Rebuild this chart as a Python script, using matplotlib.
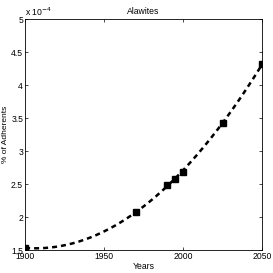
import numpy as np
import matplotlib
matplotlib.use("Agg")
import matplotlib.pyplot as plt

years = [1900, 1970, 1990, 1995, 2000, 2025, 2050]
adherents = [1.53e-4, 2.08e-4, 2.49e-4, 2.58e-4, 2.69e-4, 3.42e-4, 4.32e-4]

plt.rcParams["font.family"] = ["Liberation Sans", "DejaVu Sans"]

fig = plt.figure(figsize=(2.73, 2.73), dpi=100)
ax = fig.add_axes([0.092, 0.084, 0.868, 0.846])

# quadratic fit through the data points
coef = np.polyfit(years, adherents, 2)
xs = np.linspace(1900, 2050, 200)
ax.plot(xs, np.polyval(coef, xs), color="black", lw=1.8, ls=(0, (2, 1.6)))
ax.plot(years, adherents, ls="none", marker="s", ms=4.5, color="black")

ax.set_xlim(1900, 2050)
ax.set_ylim(1.5e-4, 5e-4)
ax.set_xticks([1900, 1950, 2000, 2050])
ax.set_yticks(np.arange(1.5e-4, 5.01e-4, 0.5e-4))
ax.set_yticklabels(["1.5", "2", "2.5", "3", "3.5", "4", "4.5", "5"])
ax.tick_params(direction="in", top=True, right=True, labelsize=6.2, length=2.5, width=0.5, pad=1.5)
for s in ax.spines.values():
    s.set_linewidth(0.6)

ax.text(0.0, 1.005, r"x 10$^{-4}$", transform=ax.transAxes, fontsize=6.2, va="bottom", ha="left")
ax.set_title("Alawites", fontsize=6.2, pad=4)
ax.set_xlabel("Years", fontsize=6.2, labelpad=0.5)
ax.set_ylabel("% of Adherents", fontsize=6)
ax.yaxis.set_label_coords(-0.068, 0.5)

fig.savefig("out.png", dpi=100)
